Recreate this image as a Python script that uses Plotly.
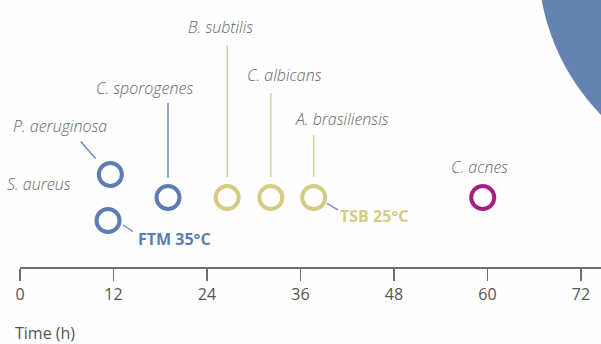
import plotly.graph_objects as go

# ---- data ----
organisms = ["P. aeruginosa", "S. aureus", "C. sporogenes", "B. subtilis",
             "C. albicans", "A. brasiliensis", "C. acnes"]
time_h = [11.6, 11.3, 19.0, 26.6, 32.2, 37.7, 59.4]
row = [1, -1, 0, 0, 0, 0, 0]
medium = ["FTM", "FTM", "FTM", "TSB", "TSB", "TSB", "other"]
tick_vals = [0, 12, 24, 36, 48, 60, 72]
tick_text = ["0", "12", "24", "36", "48", "60", "72"]
media_labels = {"FTM": "FTM 35°C", "TSB": "TSB 25°C"}

# ---- styles ----
colors = {"FTM": "#5b7db3", "TSB": "#d5cb83", "other": "#a61f80"}
line_cols = {"FTM": "#6d8bbb", "TSB": "#dcd394", "other": "#a61f80"}
label_col = "#666666"
W, H = 601, 344
PX_PER_H = 7.79
X0_PX = 20
AXIS_Y_PX = 267
ROW_PX = 23
ROW0_PX = 197.5

fig = go.Figure()

for m in ["FTM", "TSB", "other"]:
    xs = [t for t, mm in zip(time_h, medium) if mm == m]
    ys = [r for r, mm in zip(row, medium) if mm == m]
    fig.add_trace(go.Scatter(
        x=xs, y=ys, mode="markers", showlegend=False, hoverinfo="skip",
        marker=dict(symbol="circle-open", size=23, color=colors[m],
                    line=dict(width=4, color=colors[m])),
    ))

# label offsets (pixels, relative to circle centre): xshift, yshift
label_off = {
    "P. aeruginosa": (-50.7, 48.5),
    "S. aureus": (-68.8, 36.5),
    "C. sporogenes": (-23.7, 110),
    "B. subtilis": (-6.8, 170.5),
    "C. albicans": (14, 122.5),
    "A. brasiliensis": (28, 79),
    "C. acnes": (-3.7, 31),
}
# leader lines (pixel offsets): x0, y0, x1, y1
leaders = {
    "P. aeruginosa": (-29.7, 33, -14.7, 16),
    "C. sporogenes": (0, 19.5, 0, 94.5),
    "B. subtilis": (0, 20.5, 0, 152.5),
    "C. albicans": (0, 20.5, 0, 104.5),
    "A. brasiliensis": (0, 20.5, 0, 62.5),
}

annotations = []
shapes = []
for name, t, r, m in zip(organisms, time_h, row, medium):
    dx, dy = label_off[name]
    annotations.append(dict(
        x=t, y=r, xref="x", yref="y", text=name, showarrow=False,
        xshift=dx, yshift=dy,
        font=dict(family="Open Sans", size=16, color=label_col, style="italic", weight=300),
    ))
    if name in leaders:
        a, b, c, d = leaders[name]
        shapes.append(dict(
            type="line", xref="x", yref="y", xsizemode="pixel", ysizemode="pixel",
            xanchor=t, yanchor=r, x0=a, y0=b, x1=c, y1=d,
            line=dict(color=line_cols[m], width=1.5),
        ))

# medium labels
media_anchor = {"FTM": ("S. aureus", (66.4, -18), (15, -4.5, 25, -11.2)),
                "TSB": ("A. brasiliensis", (60.5, -18), (13.3, -5.8, 24.3, -12.5))}
for m, (org, (dx, dy), (a, b, c, d)) in media_anchor.items():
    i = organisms.index(org)
    annotations.append(dict(
        x=time_h[i], y=row[i], xref="x", yref="y", text="<b>%s</b>" % media_labels[m],
        showarrow=False, xshift=dx, yshift=dy,
        font=dict(family="Open Sans", size=16, color=colors[m]),
    ))
    shapes.append(dict(
        type="line", xref="x", yref="y", xsizemode="pixel", ysizemode="pixel",
        xanchor=time_h[i], yanchor=row[i], x0=a, y0=b, x1=c, y1=d,
        line=dict(color="#7f97c0", width=1.5),
    ))

# decorative large circle, top-right
shapes.append(dict(
    type="circle", xref="paper", yref="paper", xsizemode="pixel", ysizemode="pixel",
    xanchor=760 / W, yanchor=(H + 40) / H, x0=-222, x1=222, y0=-222, y1=222,
    fillcolor="#6583b0", line=dict(width=0), layer="below",
))

annotations.append(dict(
    x=13 / W, y=(H - 333) / H, xref="paper", yref="paper", text="Time (h)",
    showarrow=False, xanchor="left", yanchor="middle",
    font=dict(family="Open Sans", size=16, color="#555555"),
))

fig.update_layout(
    template="none",
    width=W, height=H, margin=dict(l=0, r=0, t=0, b=0, pad=0, autoexpand=False),
    paper_bgcolor="#fefefe", plot_bgcolor="rgba(0,0,0,0)",
    hovermode=False, dragmode=False,
    xaxis=dict(
        domain=[X0_PX / W, 1], range=[0, (W - X0_PX) / PX_PER_H],
        anchor="free", position=(H - AXIS_Y_PX) / H, automargin=False,
        showgrid=False, zeroline=False, showline=True, linecolor="#707070", linewidth=1.5,
        ticks="outside", ticklen=12, tickwidth=1.5, tickcolor="#707070",
        tickvals=tick_vals, ticktext=tick_text, fixedrange=True,
        tickfont=dict(family="Open Sans", size=16, color="#555555"),
    ),
    yaxis=dict(
        domain=[0, 1], range=[-(H - ROW0_PX) / ROW_PX, ROW0_PX / ROW_PX],
        visible=False, showgrid=False, zeroline=False, automargin=False, fixedrange=True,
    ),
    annotations=annotations, shapes=shapes,
)

fig.write_html("out.html", config={"displayModeBar": False, "staticPlot": True},
               post_script="document.body.style.margin='0';")
